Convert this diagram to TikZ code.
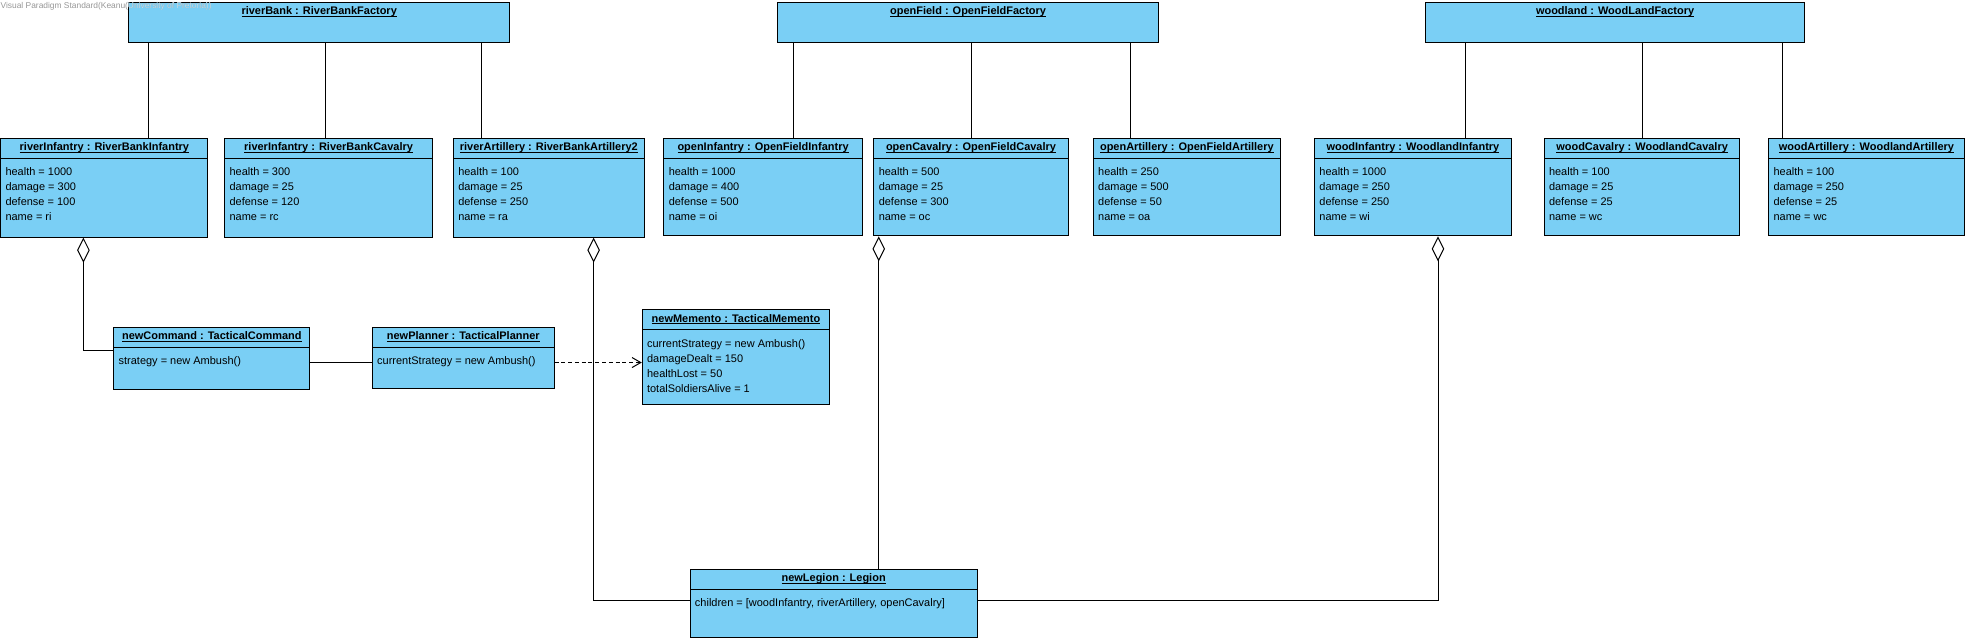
\documentclass[tikz,border=0pt]{standalone}
\usepackage{fontspec}
\setmainfont{Liberation Sans}
\usetikzlibrary{arrows.meta,fit}
\definecolor{objfill}{RGB}{122,207,245}
\definecolor{wmgray}{RGB}{150,150,150}
\definecolor{wmlight}{RGB}{190,225,242}
\newcommand\ulx[1]{\setbox0\hbox{#1}\rlap{\rule[-1.4pt]{\wd0}{0.55pt}}\box0}
\tikzset{
  objbox/.style={draw=black, fill=objfill, line width=0.8pt, inner sep=0pt},
  hdr/.style={font=\fontsize{8.75}{10}\selectfont\bfseries, inner sep=0pt, anchor=base},
  attr/.style={font=\fontsize{8.75}{10}\selectfont, inner sep=0pt, anchor=base west},
  conn/.style={draw=black, line width=0.8pt},
  agg/.style={conn, {Diamond[open,length=20pt,width=10pt]}-},
  dep/.style={conn, dash pattern=on 3.2pt off 2.2pt, -{Straight Barb[length=7pt,width=8pt]}},
  wmark/.style={font=\fontsize{6.7}{7.5}\selectfont, inner sep=0pt, anchor=base west},
}
% name l t r b header
\newcommand\fac[6]{%
  \coordinate (#1-a) at (#2,#3); \coordinate (#1-b) at (#4,#5);
  \node[objbox, fit=(#1-a)(#1-b)] (#1) {};
  \node[hdr] (#1-h) at ({(#2+#4)/2},{#3+9.6}) {\ulx{#6}};
}
% name l t r b sep header attrs
\newcommand\obj[8]{%
  \coordinate (#1-a) at (#2,#3); \coordinate (#1-b) at (#4,#5);
  \node[objbox, fit=(#1-a)(#1-b)] (#1) {};
  \draw[line width=0.8pt] (#2,#6) -- (#4,#6);
  \node[hdr] (#1-h) at ({(#2+#4)/2},{#3+9.9}) {\ulx{#7}};
  \foreach \va [count=\i] in {#8} {\node[attr] (#1-t\i) at ({#2+3.6},{#6+14.0+(\i-1)*11.9}) {\va};}
}
\begin{document}
\begin{tikzpicture}[x=1pt,y=-1pt]
\useasboundingbox (0,0) rectangle (1568,511);
% factories
\fac{rb}{102.6}{2.1}{406.3}{33.7}{riverBank : RiverBankFactory}
\fac{of}{619.7}{2.1}{923.7}{33.7}{openField : OpenFieldFactory}
\fac{wl}{1136.1}{2.1}{1438.8}{33.7}{woodland : WoodLandFactory}
% products
\obj{ri}{0.6}{110.3}{165.8}{189}{126.2}{riverInfantry : RiverBankInfantry}{health = 1000, damage = 300, defense = 100, name = ri}
\obj{rc}{179.2}{110.3}{344.7}{189}{126.2}{riverInfantry : RiverBankCavalry}{health = 300, damage = 25, defense = 120, name = rc}
\obj{ra}{361.5}{110.3}{513.5}{189}{126.2}{riverArtillery : RiverBankArtillery2}{health = 100, damage = 25, defense = 250, name = ra}
\obj{oi}{529.3}{110.3}{687.3}{188}{126.2}{openInfantry : OpenFieldInfantry}{health = 1000, damage = 400, defense = 500, name = oi}
\obj{oc}{696.7}{110.3}{851.4}{188}{126.2}{openCavalry : OpenFieldCavalry}{health = 500, damage = 25, defense = 300, name = oc}
\obj{oa}{871.6}{110.3}{1020.6}{188}{126.2}{openArtillery : OpenFieldArtillery}{health = 250, damage = 500, defense = 50, name = oa}
\obj{wi}{1048.0}{110.3}{1204.6}{188}{126.2}{woodInfantry : WoodlandInfantry}{health = 1000, damage = 250, defense = 250, name = wi}
\obj{wc}{1231.0}{110.3}{1387.0}{188}{126.2}{woodCavalry : WoodlandCavalry}{health = 100, damage = 25, defense = 25, name = wc}
\obj{wa}{1410.0}{110.3}{1565.6}{188}{126.2}{woodArtillery : WoodlandArtillery}{health = 100, damage = 250, defense = 25, name = wc}
% lower objects
\obj{nc}{90.8}{260.9}{246.9}{310.3}{276.8}{newCommand : TacticalCommand}{strategy = new Ambush()}
\obj{np}{296.9}{260.9}{441.7}{309.5}{276.8}{newPlanner : TacticalPlanner}{currentStrategy = new Ambush()}
\obj{nm}{512}{247.1}{661.4}{322.8}{263}{newMemento : TacticalMemento}{currentStrategy = new Ambush(), damageDealt = 150, healthLost = 50, totalSoldiersAlive = 1}
\obj{nl}{550.2}{453.8}{778.9}{508}{469.7}{newLegion : Legion}{{children = [woodInfantry, riverArtillery, openCavalry]}}
% factory links
\foreach \fa/\ch/\xx in {rb/ri/118.4, rb/rc/259.6, rb/ra/383.7, of/oi/632.5, of/oc/774.1, of/oa/901.2, wl/wi/1168.6, wl/wc/1309.0, wl/wa/1421.2}{
  \coordinate (tmp) at (\xx,0);
  \draw[conn] (\fa.south -| tmp) -- (\ch.north -| tmp);
}
% helper coordinates
\coordinate (d1) at (66.5,0);
\coordinate (d2) at (473.2,0);
\coordinate (d3) at (700.5,0);
\coordinate (d4) at (1146.3,0);
\coordinate (h1) at (0,279.5);
\coordinate (h2) at (0,478.5);
\coordinate (h3) at (0,289);
% aggregations
\draw[agg] (ri.south -| d1) |- (nc.west |- h1);
\draw[agg] (ra.south -| d2) |- (nl.west |- h2);
\draw[agg] (oc.south -| d3) -- (nl.north -| d3);
\draw[agg] (wi.south -| d4) |- (nl.east |- h2);
% associations
\draw[conn] (nc.east |- h3) -- (np.west |- h3);
\draw[dep] (np.east |- h3) -- (nm.west |- h3);
% watermark
\node[wmark, text=wmgray] (wm) at (0.3,7.0) {Visual Paradigm Standard(Keanu(University of Pretoria))};
\begin{scope}
  \clip (rb.north west) rectangle (rb.south east);
  \node[wmark, text=wmlight] (wm2) at (0.3,7.0) {Visual Paradigm Standard(Keanu(University of Pretoria))};
\end{scope}
\end{tikzpicture}
\end{document}
